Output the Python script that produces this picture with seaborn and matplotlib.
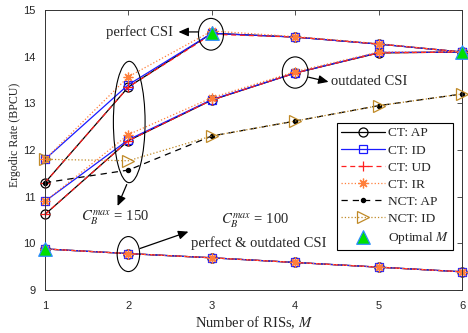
import matplotlib
matplotlib.use("Agg")
import matplotlib.pyplot as plt
from matplotlib.patches import Ellipse
import seaborn as sns
import numpy as np

# ---------------- data ----------------
M = [1, 2, 3, 4, 5, 6]

# C_B^max = 150, perfect CSI
ct_ap_perfect = [11.30, 13.35, 14.50, 14.42, 14.27, 14.10]
ct_id_perfect = [11.80, 13.40, 14.50, 14.42, 14.27, 14.10]
ct_ud_perfect = [11.30, 13.35, 14.48, 14.42, 14.27, 14.10]
ct_ir_perfect = [11.80, 13.57, 14.55, 14.43, 14.28, 14.10]

# C_B^max = 150, outdated CSI
ct_ap_outdated = [10.62, 12.20, 13.07, 13.65, 14.08, 14.10]
ct_id_outdated = [10.90, 12.22, 13.08, 13.65, 14.09, 14.10]
ct_ud_outdated = [10.62, 12.20, 13.07, 13.65, 14.08, 14.10]
ct_ir_outdated = [10.90, 12.33, 13.12, 13.68, 14.10, 14.11]

# non-cooperative transmission
nct_ap = [11.30, 11.57, 12.30, 12.62, 12.95, 13.20]
nct_id = [11.80, 11.77, 12.30, 12.62, 12.95, 13.20]

# C_B^max = 100 (perfect & outdated CSI)
ct_c100 = [9.88, 9.78, 9.69, 9.59, 9.49, 9.39]

# optimal M points
opt_m = [1, 3, 6]
opt_rate = [9.88, 14.50, 14.10]

x_ticks = [1, 2, 3, 4, 5, 6]
y_ticks = [9, 10, 11, 12, 13, 14, 15]

# ---------------- style ----------------
sns.set_theme(style="white")
plt.rcParams["font.family"] = ["Liberation Serif", "DejaVu Serif"]
plt.rcParams["mathtext.fontset"] = "stix"

fig = plt.figure(figsize=(4.68, 3.33), dpi=100)
ax = fig.add_axes([45 / 468, 1 - 290 / 333, 417 / 468, 280 / 333])

ORANGE = "#FF7F3A"
GOLD = "#C08A28"

def ser(y, label, color, ls, marker, ms, mfc="none", lw=0.9, z=2, mew=0.9):
    sns.lineplot(x=M, y=y, ax=ax, color=color, linestyle=ls, linewidth=lw,
                 marker=marker, markersize=ms, markerfacecolor=mfc,
                 markeredgecolor=color, markeredgewidth=mew,
                 label=label, clip_on=False, zorder=z, legend=False)

groups = [
    (ct_ap_perfect, ct_ap_outdated, ct_c100, "CT: AP", "black", "-", "o", 6.5),
    (ct_id_perfect, ct_id_outdated, ct_c100, "CT: ID", "#1a1aff", "-", "s", 6),
    (ct_ud_perfect, ct_ud_outdated, ct_c100, "CT: UD", "#ff2020", (0, (4, 3)), "+", 7),
    (ct_ir_perfect, ct_ir_outdated, ct_c100, "CT: IR", ORANGE, ":", (8, 2, 0), 7),
]
for i, (yp, yo, yc, lab, col, ls, mk, ms) in enumerate(groups):
    ser(yp, lab, col, ls, mk, ms, z=2 + i * 0.1)
    ser(yo, "_nolegend_", col, ls, mk, ms, z=2 + i * 0.1)
    ser(yc, "_nolegend_", col, ls, mk, ms, z=2 + i * 0.1)

ser(nct_ap, "NCT: AP", "black", (0, (5, 4)), "o", 3.0, mfc="black", z=2.5)
ser(nct_id, "NCT: ID", GOLD, ":", ">", 8.5, z=2.6)

sns.scatterplot(x=opt_m, y=opt_rate, ax=ax, marker="^", s=95,
                color="#00e000", edgecolor="#2b8cff", linewidth=0.9,
                label="Optimal $M$", clip_on=False, zorder=5, legend=False)

# ---------------- axes ----------------
ax.set_xlim(1, 6)
ax.set_ylim(9, 15)
ax.set_xticks(x_ticks)
ax.set_yticks(y_ticks)
ax.set_xticklabels([str(t) for t in x_ticks], family="Liberation Sans", fontsize=8)
ax.set_yticklabels([str(t) for t in y_ticks], family="Liberation Sans", fontsize=8)
ax.tick_params(direction="in", top=True, right=True, length=3.5, width=0.6,
               colors="#333333", labelcolor="#262626")
ax.tick_params(axis="x", pad=8)
ax.tick_params(axis="y", pad=7)
for s in ax.spines.values():
    s.set_linewidth(0.7)
    s.set_color("#333333")
ax.set_xlabel("Number of RISs, $M$", fontsize=10.5, labelpad=2)
ax.set_ylabel("Ergodic Rate (BPCU)", fontsize=8.6, va="center")
ax.yaxis.set_label_coords(-0.072, 0.555)
ax.grid(False)

# ---------------- annotations ----------------
ell_kw = dict(fill=False, edgecolor="black", linewidth=0.8, zorder=6)
ax.add_patch(Ellipse((2.01, 12.6), 0.38, 2.6, **ell_kw))
ax.add_patch(Ellipse((2.99, 14.48), 0.30, 0.68, **ell_kw))
ax.add_patch(Ellipse((4.0, 13.66), 0.31, 0.67, **ell_kw))
ax.add_patch(Ellipse((2.0, 9.77), 0.27, 0.75, **ell_kw))

arr = dict(arrowstyle="-|>,head_length=0.5,head_width=0.22", color="black", lw=0.9,
           shrinkA=0, shrinkB=0)
ax.annotate("", xy=(2.60, 14.53), xytext=(2.84, 14.53), arrowprops=arr, zorder=7)
ax.text(2.53, 14.53, "perfect CSI", ha="right", va="center", fontsize=10.5)

ax.annotate("", xy=(4.40, 13.46), xytext=(4.16, 13.56), arrowprops=arr, zorder=7)
ax.text(4.43, 13.47, "outdated CSI", ha="left", va="center", fontsize=10.5)

ax.annotate("", xy=(1.87, 10.80), xytext=(1.98, 11.26), arrowprops=arr, zorder=7)
ax.text(1.84, 10.55, r"$C_B^{max}$ = 150", ha="center", va="center", fontsize=10.5)

ax.annotate("", xy=(2.72, 10.25), xytext=(2.14, 9.89), arrowprops=arr, zorder=7)
ax.text(3.52, 10.48, r"$C_B^{max}$ = 100", ha="center", va="center", fontsize=10.5)
ax.text(3.56, 10.0, "perfect & outdated CSI", ha="center", va="center", fontsize=10.5)

leg = ax.legend(loc="lower right", bbox_to_anchor=(0.978, 0.143), fontsize=9.6,
                frameon=True, fancybox=False, edgecolor="black", framealpha=1,
                handlelength=3.3, handletextpad=0.2, borderpad=0.3,
                labelspacing=0.36, borderaxespad=0)
leg.get_frame().set_linewidth(0.8)
leg.set_zorder(10)

fig.savefig("out.png", dpi=100)
